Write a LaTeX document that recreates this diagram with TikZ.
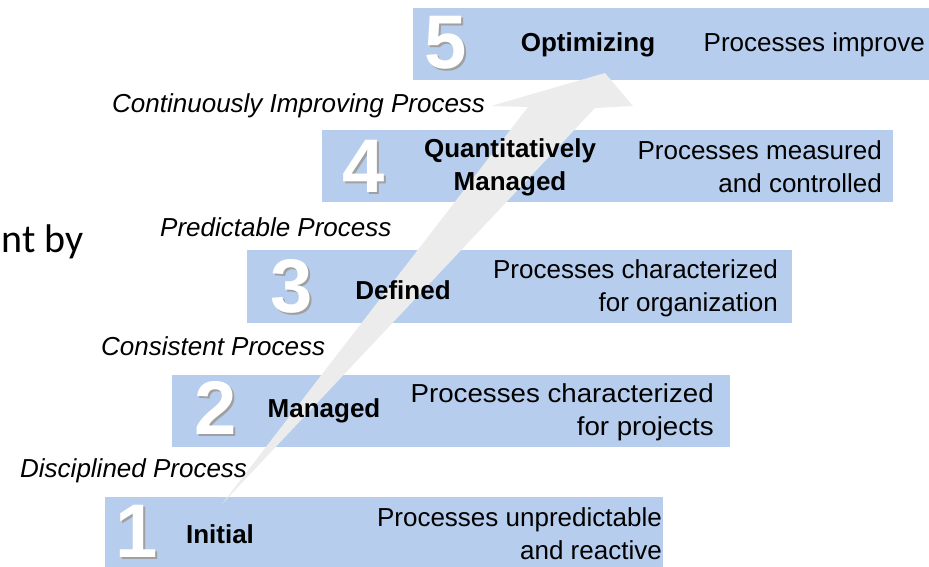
\documentclass[tikz,border=0pt]{standalone}
\usepackage{fontspec}
\setmainfont{Liberation Sans}
\newfontfamily\slidefont{Carlito}
\usepackage{xcolor}

\definecolor{lvlblue}{RGB}{182,205,237}
\definecolor{arrowgrey}{RGB}{236,236,236}
\definecolor{numshadow}{RGB}{160,160,160}

\tikzset{
  lvlbox/.style={rectangle,fill=lvlblue,inner sep=0pt},
  lvlnum/.style={font=\fontsize{76}{76}\selectfont\bfseries,text=white,inner sep=0pt},
  lvlshadow/.style={font=\fontsize{76}{76}\selectfont\bfseries,text=numshadow,inner sep=0pt},
  lvlname/.style={font=\fontsize{26}{33}\selectfont\bfseries,align=center,inner sep=0pt},
  lvldesc/.style={font=\fontsize{26}{33}\selectfont,align=right,anchor=east,inner sep=0pt},
  proclabel/.style={font=\fontsize{26}{30}\selectfont\itshape,anchor=west,inner sep=0pt}
}

\begin{document}
\begin{tikzpicture}[x=1pt,y=-1pt]
            \useasboundingbox (0,0) rectangle (929,567);
            \clip (0,0) rectangle (929,567);

            % level boxes
            \node (box1) at (384,535) [lvlbox,minimum width=558pt,minimum height=76pt] {};
            \node (box2) at (451,411) [lvlbox,minimum width=558pt,minimum height=72pt] {};
            \node (box3) at (519.5,286.5) [lvlbox,minimum width=545pt,minimum height=73pt] {};
            \node (box4) at (607.5,166) [lvlbox,minimum width=571pt,minimum height=72pt] {};
            \node (box5) at (676.5,44) [lvlbox,minimum width=527pt,minimum height=72pt] {};

            % the rising arrow
            \coordinate (tail) at (222,504);
            \coordinate (shaftL) at (528,107);
            \coordinate (barbL) at (491,106);
            \coordinate (tip) at (605,73);
            \coordinate (barbR) at (633,106);
            \coordinate (shaftR) at (595,108);
            \fill[arrowgrey] (tail) -- (shaftL) -- (barbL) -- (tip) -- (barbR) -- (shaftR) -- cycle;

            % numbers
            \node (s1) at (139,533) [lvlshadow] {1};
            \node (n1) at (137,531) [lvlnum] {1};
            \node (s2) at (218,410) [lvlshadow] {2};
            \node (n2) at (216,408) [lvlnum] {2};
            \node (s3) at (294,288) [lvlshadow] {3};
            \node (n3) at (292,286) [lvlnum] {3};
            \node (s4) at (366,168) [lvlshadow] {4};
            \node (n4) at (364,166) [lvlnum] {4};
            \node (s5) at (448,45) [lvlshadow] {5};
            \node (n5) at (446,43) [lvlnum] {5};

            % level names
            \node (l1) at (220,534) [lvlname] {Initial};
            \node (l2) at (324,411) [lvlname] {Managed};
            \node (l3) at (403,290) [lvlname] {Defined};
            \node (l4) at (510,167) [lvlname] {Quantitatively\\Managed};
            \node (l5) at (588,45) [lvlname] {Optimizing};

            % descriptions
            \node (d1) at (662,534) [lvldesc] {Processes unpredictable\\and reactive};
            \node (d2) at (714,412) [lvldesc,xscale=1.065] {Processes characterized\\for projects};
            \node (d3) at (778,288) [lvldesc] {Processes characterized\\for organization};
            \node (d4) at (882,167) [lvldesc] {Processes measured\\and controlled};
            \node (d5) at (925,45) [lvldesc] {Processes improve};

            % process labels
            \node (p1) at (20,471) [proclabel] {Disciplined Process};
            \node (p2) at (101,346) [proclabel] {Consistent Process};
            \node (p3) at (160,227) [proclabel] {Predictable Process};
            \node (p4) at (112,106) [proclabel] {Continuously Improving Process};

            % cut off slide text
            \node (slide) at (84,242) [anchor=east,inner sep=0pt,font=\slidefont\fontsize{40}{40}\selectfont] {nt by};
        \end{tikzpicture}
\end{document}
